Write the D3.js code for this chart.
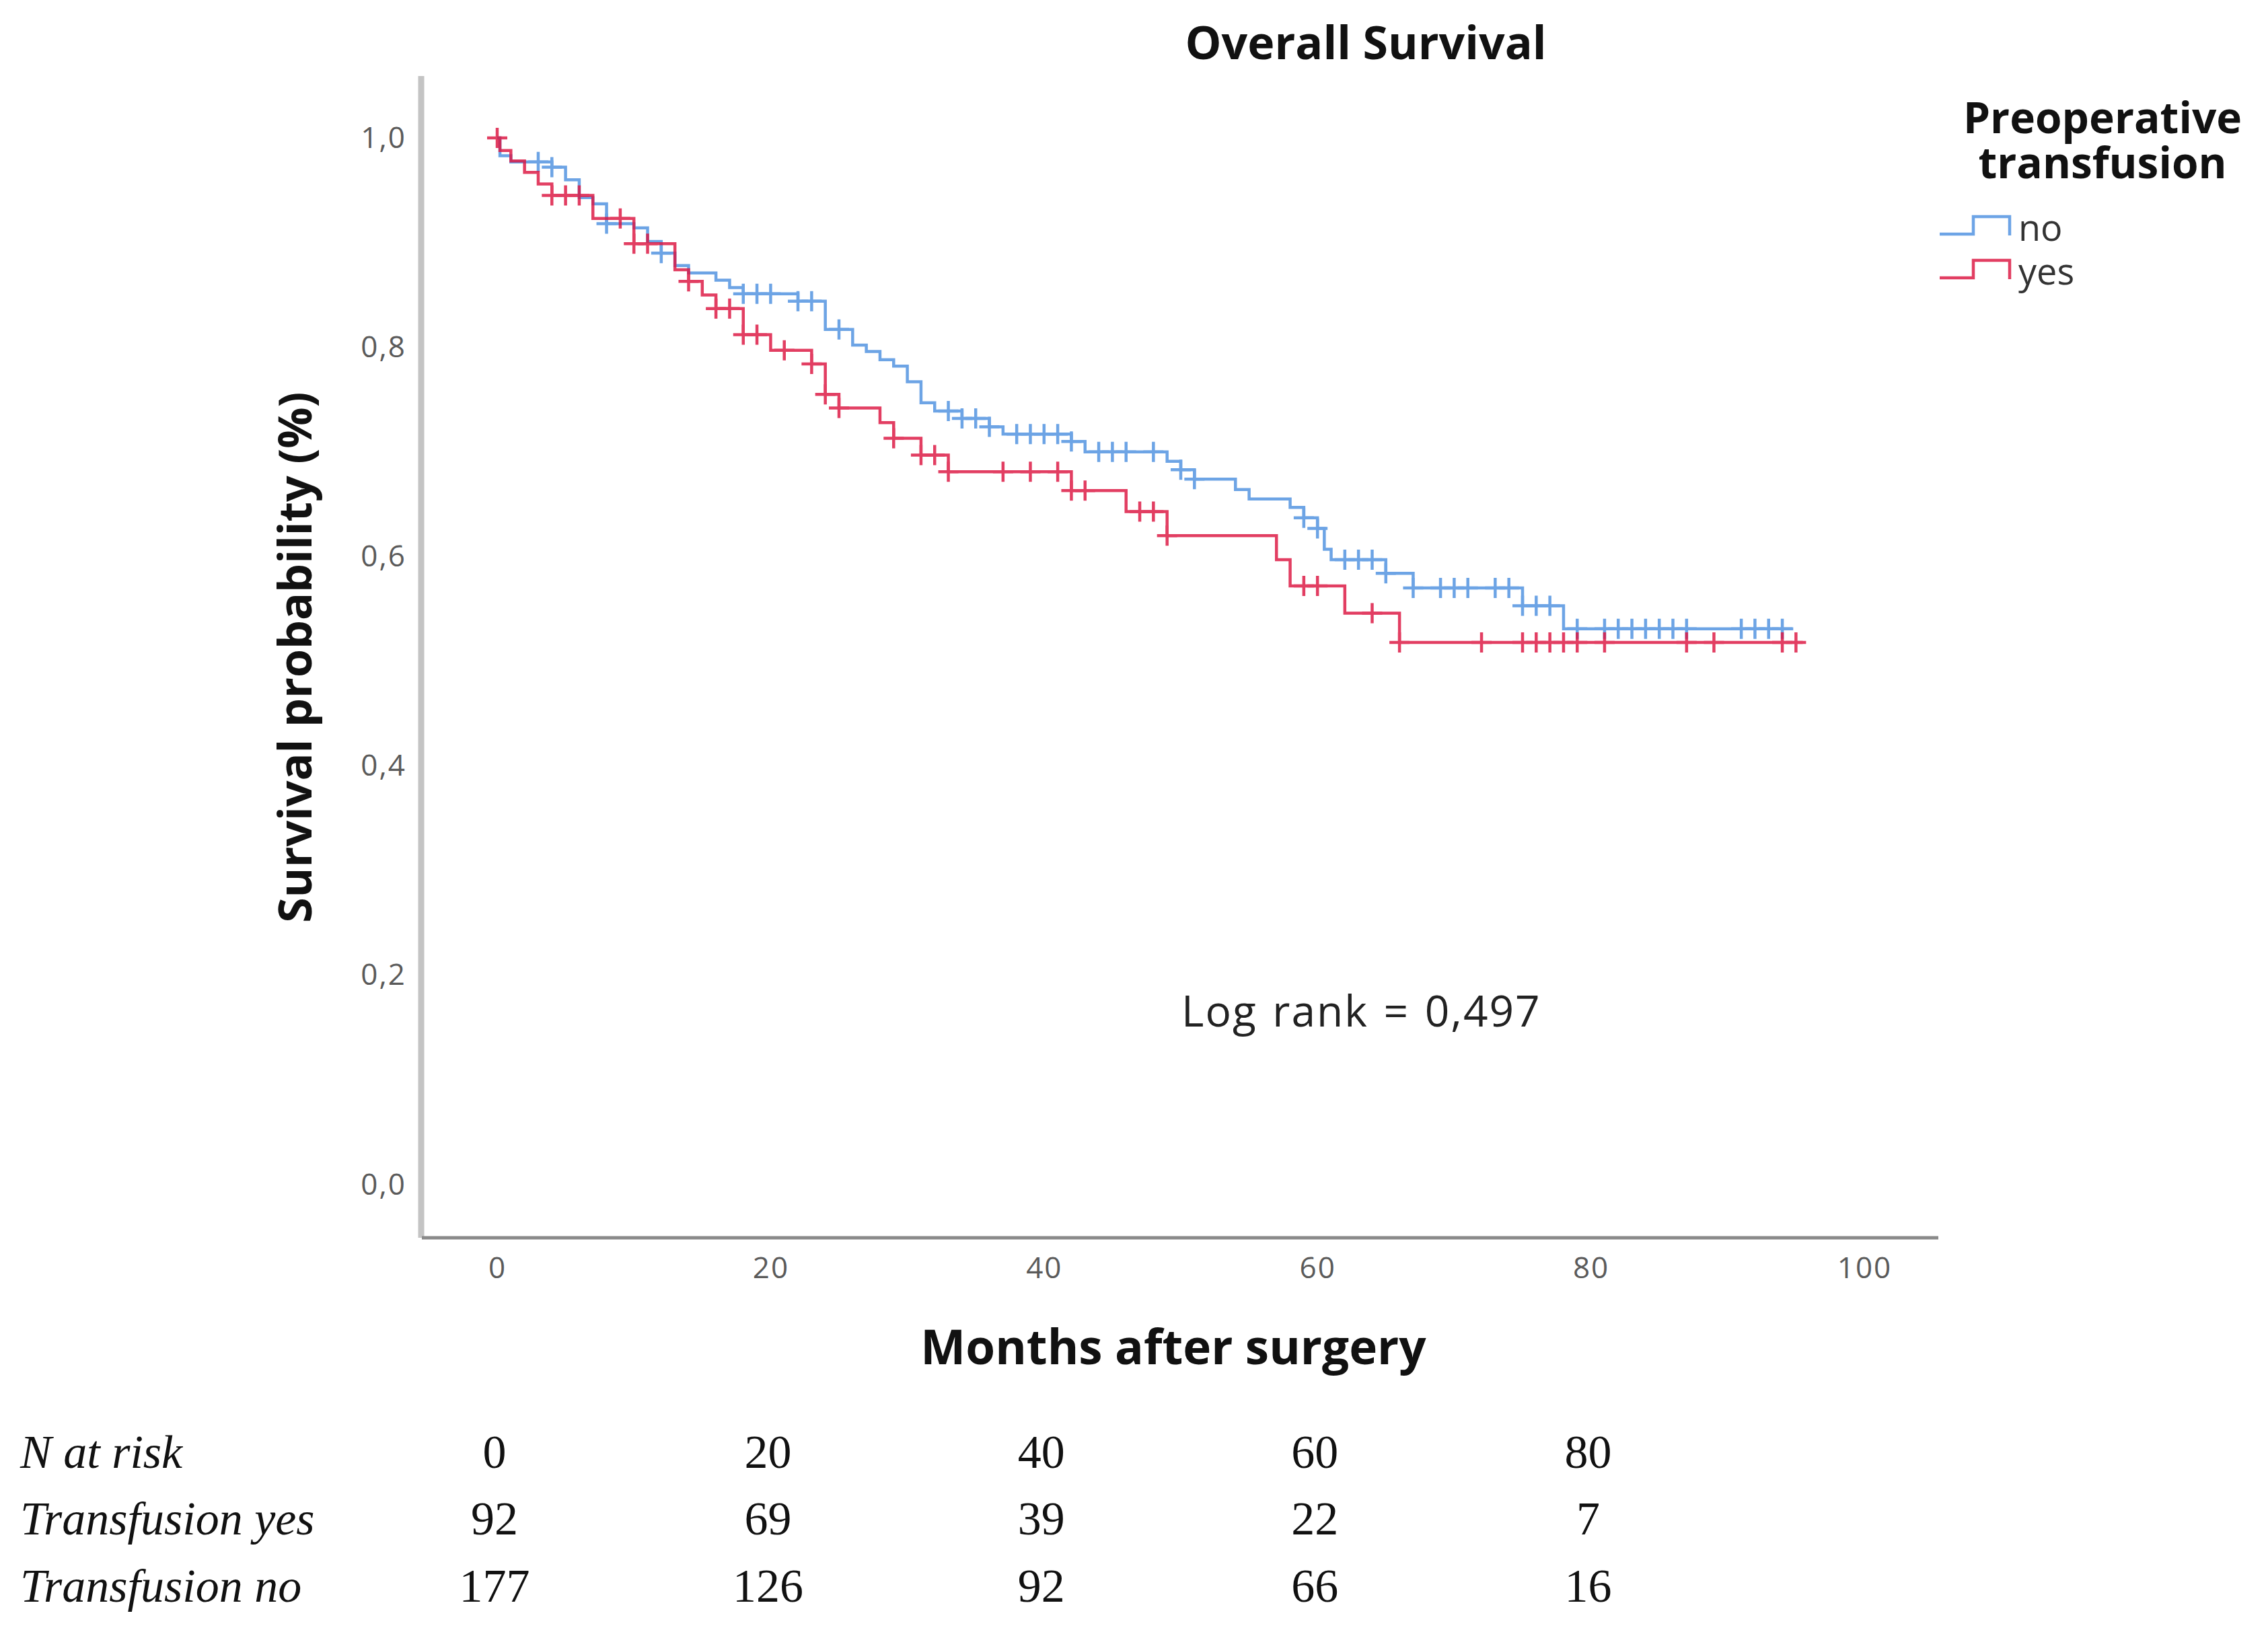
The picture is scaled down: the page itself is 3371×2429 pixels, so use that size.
<!DOCTYPE html>
<html>
<head>
<meta charset="utf-8">
<script src="https://cdn.jsdelivr.net/npm/d3@7"></script>
<style>
  body { margin: 0; background: #fff; }
  text { font-family: "Open Sans", "DejaVu Sans", sans-serif; }
  .serif { font-family: "Liberation Serif", "DejaVu Serif", serif; }
</style>
</head>
<body>
<div id="chart"></div>
<script>
// axis ticks
const xTicks = [0, 20, 40, 60, 80, 100];
const yTicks = [0, 0.2, 0.4, 0.6, 0.8, 1.0];

// Kaplan-Meier steps: time of drop (months) and survival after it
const noTimes = [0.2, 1, 4, 5, 6, 7, 8, 10, 11, 12, 13, 14, 16, 17, 18, 22, 24, 26, 27, 28, 29, 30, 31, 32,
                 34, 36, 37, 42, 43, 49, 50, 51, 54, 55, 58, 59, 60, 60.5, 61, 65, 67, 75, 78];
const noSurv  = [0.983, 0.977, 0.972, 0.960, 0.943, 0.937, 0.918, 0.914, 0.901, 0.890, 0.878, 0.871, 0.864,
                 0.857, 0.851, 0.844, 0.817, 0.802, 0.796, 0.788, 0.782, 0.767, 0.747, 0.739, 0.732, 0.724,
                 0.717, 0.710, 0.700, 0.691, 0.683, 0.674, 0.664, 0.655, 0.647, 0.637, 0.627, 0.607, 0.597,
                 0.584, 0.570, 0.553, 0.531];
const noCensor = [3, 4, 8, 12, 18, 19, 20, 22, 23, 25, 33, 34, 35, 36, 38, 39, 40, 41, 42, 44, 45, 46, 48, 50,
                  51, 59, 60, 62, 63, 64, 65, 67, 69, 70, 71, 73, 74, 75, 76, 77, 79, 81, 82, 83, 84, 85, 86,
                  87, 91, 92, 93, 94];
const noEnd = 94.8;

const yesTimes = [0.2, 1, 2, 3, 4, 7, 10, 13, 14, 15, 16, 18, 20, 23, 24, 25, 28, 29, 31, 33, 42, 46, 49,
                  57, 58, 62, 66];
const yesSurv  = [0.988, 0.978, 0.967, 0.956, 0.945, 0.923, 0.899, 0.874, 0.863, 0.850, 0.837, 0.812, 0.797,
                  0.784, 0.755, 0.742, 0.728, 0.713, 0.697, 0.681, 0.663, 0.643, 0.620, 0.597, 0.572, 0.546,
                  0.518];
const yesCensor = [0, 4, 5, 6, 9, 10, 11, 14, 16, 17, 18, 19, 21, 23, 24, 25, 29, 31, 32, 33, 37, 39, 41, 42,
                   43, 47, 48, 49, 59, 60, 64, 66, 72, 75, 76, 77, 78, 79, 81, 87, 89, 94, 95];
const yesEnd = 95.5;

// number at risk table
const riskTimes = [0, 20, 40, 60, 80];
const riskYes = [92, 69, 39, 22, 7];
const riskNo = [177, 126, 92, 66, 16];

const groups = [
  {name: "no",  times: noTimes,  surv: noSurv,  censor: noCensor,  end: noEnd,  color: "#4d90e0"},
  {name: "yes", times: yesTimes, surv: yesSurv, censor: yesCensor, end: yesEnd, color: "#dc1440"}
];

const width = 3371, height = 2429;
const svg = d3.select("#chart").append("svg")
    .attr("width", width)
    .attr("height", height)
    .style("background", "#fff");

const x = d3.scaleLinear().domain([0, 100]).range([739, 2771]);
const y = d3.scaleLinear().domain([0, 1]).range([1761, 205]);

// axis lines
svg.append("line")
    .attr("x1", 626).attr("x2", 626).attr("y1", 113).attr("y2", 1840)
    .attr("stroke", "#c4c4c4").attr("stroke-width", 9);
svg.append("line")
    .attr("x1", 627).attr("x2", 2881).attr("y1", 1840).attr("y2", 1840)
    .attr("stroke", "#8a8a8a").attr("stroke-width", 5);

// tick labels
const fmt = d => d3.format(".1f")(d).replace(".", ",");
const yAxis = svg.append("g")
    .attr("transform", "translate(604,0)")
    .call(d3.axisLeft(y).tickValues(yTicks).tickFormat(fmt).tickSize(0).tickPadding(0));
const xAxis = svg.append("g")
    .attr("transform", "translate(0,1858)")
    .call(d3.axisBottom(x).tickValues(xTicks).tickSize(0).tickPadding(0));
[xAxis, yAxis].forEach(a => {
  a.select(".domain").remove();
  a.selectAll("text")
      .attr("font-family", "'Open Sans', sans-serif")
      .attr("font-size", 44)
      .attr("letter-spacing", 2)
      .attr("fill", "#5a5a5a");
});
xAxis.selectAll("text").attr("dy", "0.95em");

// survival curves
const survAt = (g, t) => {
  const i = d3.bisectRight(g.times, t);
  return i === 0 ? 1 : g.surv[i - 1];
};
const line = d3.line()
    .x(d => x(d[0]))
    .y(d => y(d[1]))
    .curve(d3.curveStepAfter);

groups.forEach(g => {
  const pts = [[0, 1]].concat(g.times.map((t, i) => [t, g.surv[i]]));
  pts.push([g.end, g.surv[g.surv.length - 1]]);
  const layer = svg.append("g").attr("opacity", 0.82);
  layer.append("path")
      .datum(pts)
      .attr("d", line)
      .attr("fill", "none")
      .attr("stroke", g.color)
      .attr("stroke-width", 4.5);
  layer.selectAll("path.censor")
      .data(g.censor)
      .enter().append("path")
      .attr("class", "censor")
      .attr("transform", t => `translate(${x(t)},${y(survAt(g, t))})`)
      .attr("d", "M-15,0H15M0,-15V15")
      .attr("stroke", g.color)
      .attr("stroke-width", 4.5);
});

// titles
svg.append("text")
    .attr("x", 2030).attr("y", 88)
    .attr("text-anchor", "middle")
    .attr("font-size", 68).attr("font-weight", "bold")
    .attr("fill", "#111")
    .text("Overall Survival");

svg.append("text")
    .attr("transform", "translate(463,977) rotate(-90)")
    .attr("text-anchor", "middle")
    .attr("font-size", 68).attr("font-weight", "bold")
    .attr("fill", "#111")
    .text("Survival probability (%)");

svg.append("text")
    .attr("x", 1744).attr("y", 2028)
    .attr("text-anchor", "middle")
    .attr("font-size", 71).attr("font-weight", "bold")
    .attr("fill", "#111")
    .text("Months after surgery");

svg.append("text")
    .attr("x", 1756).attr("y", 1526)
    .attr("font-size", 64)
    .attr("letter-spacing", 2)
    .attr("word-spacing", 4)
    .attr("fill", "#222")
    .text("Log rank = 0,497");

// legend: title on two lines, entries with a step-shaped swatch
const legend = svg.append("g");
const legendTitle = legend.append("text")
    .attr("x", 3125).attr("y", 198)
    .attr("text-anchor", "middle")
    .attr("font-size", 64).attr("font-weight", "bold")
    .attr("fill", "#111");
legendTitle.append("tspan").attr("x", 3125).text("Preoperative");
legendTitle.append("tspan").attr("x", 3125).attr("dy", 67).text("transfusion");

groups.forEach((g, i) => {
  const ly = 348 + i * 65;
  legend.append("path")
      .attr("d", `M2883,${ly}H2933V${ly - 26}H2987V${ly + 2}`)
      .attr("fill", "none")
      .attr("stroke", g.color)
      .attr("stroke-width", 4.5)
      .attr("opacity", 0.82);
});
const legendLabels = legend.append("text")
    .attr("x", 3000).attr("y", 358)
    .attr("font-size", 54)
    .attr("fill", "#333");
groups.forEach((g, i) => {
  legendLabels.append("tspan")
      .attr("x", 3000)
      .attr("dy", i === 0 ? 0 : 65)
      .text(g.name);
});

// number at risk table
const table = svg.append("g").attr("class", "serif");
const rows = [
  {label: "N at risk", values: riskTimes},
  {label: "Transfusion yes", values: riskYes},
  {label: "Transfusion no", values: riskNo}
];
const rowY = [2182, 2281, 2381];
rows.forEach((r, i) => {
  table.append("text")
      .attr("class", "serif")
      .attr("x", 30).attr("y", rowY[i])
      .attr("font-size", 70).attr("font-style", "italic")
      .attr("fill", "#111")
      .text(r.label);
  table.selectAll(null)
      .data(r.values)
      .enter().append("text")
      .attr("class", "serif")
      .attr("x", (d, j) => x(riskTimes[j]) - 4)
      .attr("y", rowY[i])
      .attr("text-anchor", "middle")
      .attr("font-size", 70)
      .attr("fill", "#111")
      .text(d => d);
});
</script>
</body>
</html>
